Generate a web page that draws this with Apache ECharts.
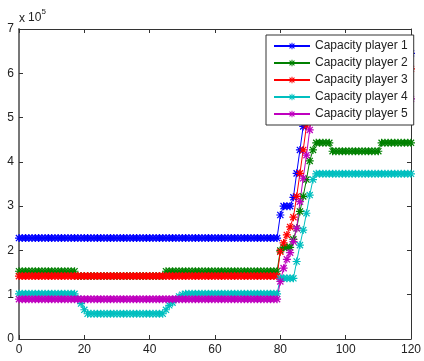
<!DOCTYPE html>
<html><head><meta charset="utf-8">
<script src="https://cdn.jsdelivr.net/npm/echarts@6/dist/echarts.min.js"></script>
<style>html,body{margin:0;padding:0;background:#fff;}#c{width:424px;height:361px;}</style>
</head><body><div id="c"></div>
<script>
const periods = [
0,1,2,3,4,5,6,7,8,9,10,11,12,13,14,15,16,17,18,19,
20,21,22,23,24,25,26,27,28,29,30,31,32,33,34,35,36,37,38,39,
40,41,42,43,44,45,46,47,48,49,50,51,52,53,54,55,56,57,58,59,
60,61,62,63,64,65,66,67,68,69,70,71,72,73,74,75,76,77,78,79,
80,81,82,83,84,85,86,87,88,89,90,91,92,93,94,95,96,97,98,99,
100,101,102,103,104,105,106,107,108,109,110,111,112,113,114,115,116,117,118,119,120];

const seriesNames = ['Capacity player 1','Capacity player 2','Capacity player 3','Capacity player 4','Capacity player 5'];

const capacityPlayer1 = [
2.28,2.28,2.28,2.28,2.28,2.28,2.28,2.28,2.28,2.28,
2.28,2.28,2.28,2.28,2.28,2.28,2.28,2.28,2.28,2.28,
2.28,2.28,2.28,2.28,2.28,2.28,2.28,2.28,2.28,2.28,
2.28,2.28,2.28,2.28,2.28,2.28,2.28,2.28,2.28,2.28,
2.28,2.28,2.28,2.28,2.28,2.28,2.28,2.28,2.28,2.28,
2.28,2.28,2.28,2.28,2.28,2.28,2.28,2.28,2.28,2.28,
2.28,2.28,2.28,2.28,2.28,2.28,2.28,2.28,2.28,2.28,
2.28,2.28,2.28,2.28,2.28,2.28,2.28,2.28,2.28,2.28,
2.8,3.0,3.0,3.0,3.2,3.74,4.27,4.8,5.33,5.86,
6.38,6.45,6.45,6.45,6.45,6.45,6.45,6.45,6.45,6.45,
6.45,6.45,6.45,6.45,6.45,6.45,6.45,6.45,6.45,6.45,
6.45,6.45,6.45,6.45,6.45,6.45,6.45,6.45,6.45,6.45,
6.45];

const capacityPlayer2 = [
1.53,1.53,1.53,1.53,1.53,1.53,1.53,1.53,1.53,1.53,
1.53,1.53,1.53,1.53,1.53,1.53,1.53,1.53,1.42,1.42,
1.42,1.42,1.42,1.42,1.42,1.42,1.42,1.42,1.42,1.42,
1.42,1.42,1.42,1.42,1.42,1.42,1.42,1.42,1.42,1.42,
1.42,1.42,1.42,1.42,1.42,1.53,1.53,1.53,1.53,1.53,
1.53,1.53,1.53,1.53,1.53,1.53,1.53,1.53,1.53,1.53,
1.53,1.53,1.53,1.53,1.53,1.53,1.53,1.53,1.53,1.53,
1.53,1.53,1.53,1.53,1.53,1.53,1.53,1.53,1.53,1.53,
2.0,2.07,2.07,2.07,2.25,2.5,2.88,3.22,3.6,4.02,
4.27,4.43,4.43,4.43,4.43,4.43,4.24,4.24,4.24,4.24,
4.24,4.24,4.24,4.24,4.24,4.24,4.24,4.24,4.24,4.24,
4.24,4.43,4.43,4.43,4.43,4.43,4.43,4.43,4.43,4.43,
4.43];

const capacityPlayer3 = [
1.42,1.42,1.42,1.42,1.42,1.42,1.42,1.42,1.42,1.42,
1.42,1.42,1.42,1.42,1.42,1.42,1.42,1.42,1.42,1.42,
1.42,1.42,1.42,1.42,1.42,1.42,1.42,1.42,1.42,1.42,
1.42,1.42,1.42,1.42,1.42,1.42,1.42,1.42,1.42,1.42,
1.42,1.42,1.42,1.42,1.42,1.42,1.42,1.42,1.42,1.42,
1.42,1.42,1.42,1.42,1.42,1.42,1.42,1.42,1.42,1.42,
1.42,1.42,1.42,1.42,1.42,1.42,1.42,1.42,1.42,1.42,
1.42,1.42,1.42,1.42,1.42,1.42,1.42,1.42,1.42,1.42,
1.97,2.17,2.35,2.53,2.75,3.22,3.74,4.27,4.81,5.35,
5.88,6.1,6.1,6.1,6.1,6.1,6.1,6.1,6.1,6.1,
6.1,6.1,6.1,6.1,6.1,6.1,6.1,6.1,6.1,6.1,
6.1,6.1,6.1,6.1,6.1,6.1,6.1,6.1,6.1,6.1,
6.1];

const capacityPlayer4 = [
1.02,1.02,1.02,1.02,1.02,1.02,1.02,1.02,1.02,1.02,
1.02,1.02,1.02,1.02,1.02,1.02,1.02,1.02,0.91,0.8,
0.66,0.57,0.57,0.57,0.57,0.57,0.57,0.57,0.57,0.57,
0.57,0.57,0.57,0.57,0.57,0.57,0.57,0.57,0.57,0.57,
0.57,0.57,0.57,0.57,0.57,0.66,0.76,0.82,0.9,0.96,
1.0,1.02,1.02,1.02,1.02,1.02,1.02,1.02,1.02,1.02,
1.02,1.02,1.02,1.02,1.02,1.02,1.02,1.02,1.02,1.02,
1.02,1.02,1.02,1.02,1.02,1.02,1.02,1.02,1.02,1.02,
1.37,1.37,1.37,1.37,1.37,1.75,2.12,2.46,2.84,3.25,
3.6,3.73,3.73,3.73,3.73,3.73,3.73,3.73,3.73,3.73,
3.73,3.73,3.73,3.73,3.73,3.73,3.73,3.73,3.73,3.73,
3.73,3.73,3.73,3.73,3.73,3.73,3.73,3.73,3.73,3.73,
3.73];

const capacityPlayer5 = [
0.9,0.9,0.9,0.9,0.9,0.9,0.9,0.9,0.9,0.9,
0.9,0.9,0.9,0.9,0.9,0.9,0.9,0.9,0.9,0.9,
0.9,0.9,0.9,0.9,0.9,0.9,0.9,0.9,0.9,0.9,
0.9,0.9,0.9,0.9,0.9,0.9,0.9,0.9,0.9,0.9,
0.9,0.9,0.9,0.9,0.9,0.9,0.9,0.9,0.9,0.9,
0.9,0.9,0.9,0.9,0.9,0.9,0.9,0.9,0.9,0.9,
0.9,0.9,0.9,0.9,0.9,0.9,0.9,0.9,0.9,0.9,
0.9,0.9,0.9,0.9,0.9,0.9,0.9,0.9,0.9,0.9,
1.3,1.6,1.8,1.95,2.2,2.5,3.1,3.63,4.15,4.72,
5.25,5.42,5.42,5.42,5.42,5.42,5.42,5.42,5.42,5.42,
5.42,5.42,5.42,5.42,5.42,5.42,5.42,5.42,5.42,5.42,
5.42,5.42,5.42,5.42,5.42,5.42,5.42,5.42,5.42,5.42,
5.42];

const allValues = [capacityPlayer1, capacityPlayer2, capacityPlayer3, capacityPlayer4, capacityPlayer5];
const colors = ['#0000ff', '#008000', '#ff0000', '#00bfbf', '#bf00bf'];
const FONT = '"Liberation Sans", Arial, Helvetica, sans-serif';
const STAR = 'path://M4.25 0h1.5v10h-1.5Z M0 4.25h10v1.5h-10Z M0.6 1.7L1.7 0.6L9.4 8.3L8.3 9.4Z M8.3 0.6L9.4 1.7L1.7 9.4L0.6 8.3Z';

const chart = echarts.init(document.getElementById('c'), null, {renderer: 'canvas'});

const axisCommonX = {
  type: 'value', min: 0, max: 120, interval: 20,
  splitLine: {show: false},
  axisTick: {show: true, inside: true, length: 4, lineStyle: {color: '#333', width: 1}},
  axisLine: {show: true, onZero: false, lineStyle: {color: '#333', width: 1}}
};
const axisCommonY = {
  type: 'value', min: 0, max: 7, interval: 1,
  splitLine: {show: false},
  axisTick: {show: true, inside: true, length: 4, lineStyle: {color: '#333', width: 1}},
  axisLine: {show: true, onZero: false, lineStyle: {color: '#333', width: 1}}
};

chart.setOption({
  animation: false,
  backgroundColor: '#fff',
  grid: {left: 19, right: 8, top: 29, bottom: 22, containLabel: false},
  xAxis: [
    Object.assign({}, axisCommonX, {position: 'bottom',
      axisLabel: {show: true, margin: 5, fontSize: 12, color: '#222', fontFamily: FONT}}),
    Object.assign({}, axisCommonX, {position: 'top', axisLabel: {show: false}})
  ],
  yAxis: [
    Object.assign({}, axisCommonY, {position: 'left',
      axisLine: {show: true, onZero: false, lineStyle: {color: '#777', width: 2}},
      axisLabel: {show: true, margin: 5, fontSize: 12, color: '#222', fontFamily: FONT}}),
    Object.assign({}, axisCommonY, {position: 'right', axisLabel: {show: false}})
  ],
  legend: {
    orient: 'vertical', left: 266, top: 35,
    padding: [5, 6, 5, 7],
    itemWidth: 36, itemHeight: 8, itemGap: 5,
    backgroundColor: '#fff', borderColor: '#333', borderWidth: 1, borderRadius: 0,
    textStyle: {fontFamily: FONT, fontSize: 12, color: '#222'},
    data: seriesNames
  },
  graphic: [
    {type: 'text', left: 19, top: 13, style: {text: 'x', font: '12px ' + FONT, fill: '#222'}},
    {type: 'text', left: 28, top: 12, style: {text: '10', font: '12px ' + FONT, fill: '#222'}},
    {type: 'text', left: 41.5, top: 8, style: {text: '5', font: '8px ' + FONT, fill: '#222'}}
  ],
  series: allValues.map((vals, k) => ({
    name: seriesNames[k],
    type: 'line',
    xAxisIndex: 0, yAxisIndex: 0,
    data: periods.map((p, i) => [p, vals[i]]),
    symbol: STAR,
    symbolSize: 8,
    showAllSymbol: true,
    clip: false,
    lineStyle: {color: colors[k], width: 1},
    itemStyle: {color: colors[k]},
    emphasis: {disabled: true}
  }))
});
</script>
</body></html>
